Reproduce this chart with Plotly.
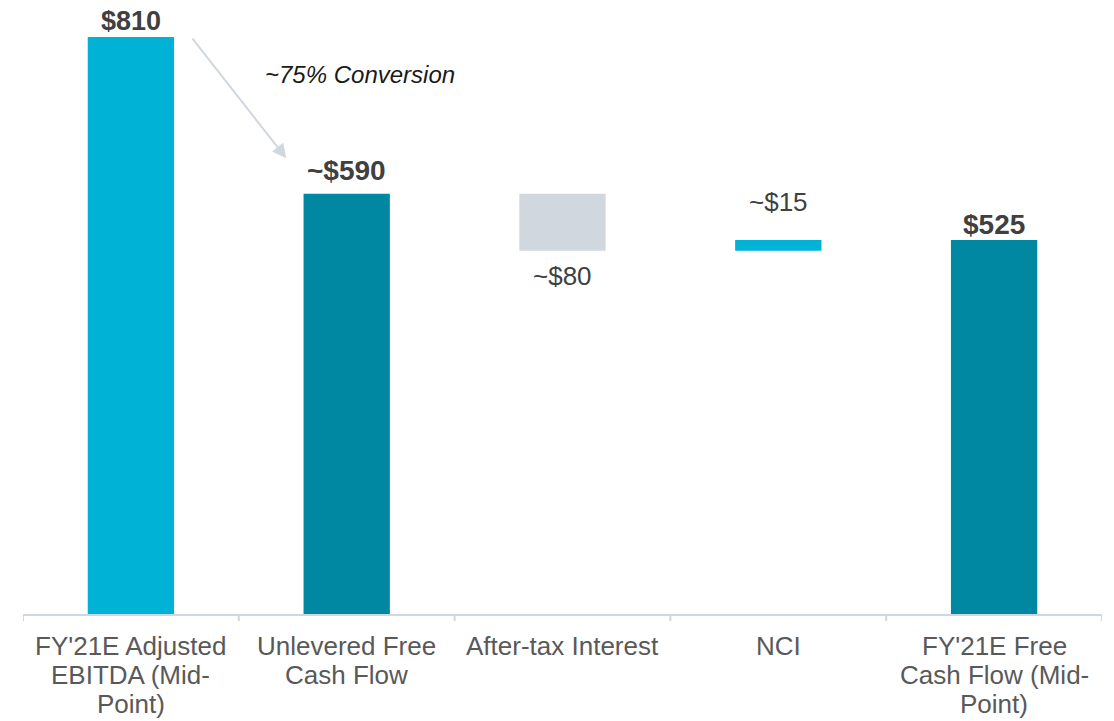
import plotly.graph_objects as go

categories = ["FY'21E Adjusted<br>EBITDA (Mid-<br>Point)", "Unlevered Free<br>Cash Flow",
              "After-tax Interest", "NCI", "FY'21E Free<br>Cash Flow (Mid-<br>Point)"]
values = [810, 590, -80, 15, 525]
measures = ["absolute", "absolute", "relative", "relative", "absolute"]
labels = ["$810", "~$590", "~$80", "~$15", "$525"]
label_bold = [True, True, False, False, True]
colors = ["#00B2D6", "#0088A3", "#D0D7DE", "#00B2D6", "#0088A3"]

# compute bases / heights for a waterfall drawn with plain bars
bases, heights, tops, bottoms = [], [], [], []
running = 0
for v, m in zip(values, measures):
    if m == "absolute":
        base, h = 0, v
        running = v
    else:
        start = running
        running = running + v
        base, h = min(start, running), abs(v)
    bases.append(base)
    heights.append(h)
    tops.append(base + h)
    bottoms.append(base)

fig = go.Figure()
fig.add_trace(go.Bar(
    x=list(range(len(categories))), y=heights, base=bases,
    marker=dict(color=colors, line=dict(width=0)),
    width=0.4, hoverinfo="skip",
))

# pixel offsets, font sizes and box heights of value labels
label_shift = [3, 6, -8, 21, -2]
label_size = [27, 28, 26, 26, 28]
label_box = [22, None, None, None, None]
annotations = []
for i, (lab, b, v) in enumerate(zip(labels, label_bold, values)):
    if v < 0:
        ann = dict(x=i, y=bottoms[i], text=lab, showarrow=False,
                   yanchor="top", yshift=label_shift[i],
                   font=dict(size=label_size[i], color="#404040"))
    else:
        ann = dict(x=i, y=tops[i], text=f"<b>{lab}</b>" if b else lab,
                   showarrow=False, yanchor="bottom", yshift=label_shift[i],
                   font=dict(size=label_size[i], color="#404040"))
    if label_box[i]:
        ann["height"] = label_box[i]
    annotations.append(ann)

# category labels, one line each (tighter line spacing than tick labels)
for i, cat in enumerate(categories):
    for j, line in enumerate(cat.split("<br>")):
        annotations.append(dict(x=i, y=0, xref="x", yref="paper", text=line,
                                showarrow=False, yanchor="middle",
                                yshift=-32 - 29 * j,
                                font=dict(size=26, color="#595959")))

# conversion arrow
annotations.append(dict(x=0.72, y=640, ax=0.28, ay=810, xref="x", yref="y",
                        axref="x", ayref="y", text="", showarrow=True,
                        arrowhead=2, arrowsize=1.4, arrowwidth=2, arrowcolor="#D0D7DE"))
annotations.append(dict(x=0.61, y=758, xref="x", yref="y", text="<i>~75% Conversion</i>",
                        showarrow=False, xanchor="left",
                        font=dict(size=24, color="#1A1A1A")))

# the page has an 8px body margin, so the figure is sized to fit the window
fig.update_layout(
    width=1106, height=713,
    margin=dict(l=15, r=12, t=12, b=107),
    paper_bgcolor="white", plot_bgcolor="white",
    font=dict(family="Liberation Sans, Arial, sans-serif", color="#595959"),
    showlegend=False,
    annotations=annotations,
    bargap=0.6,
)
fig.update_xaxes(
    tickmode="array", tickvals=list(range(len(categories))),
    showticklabels=False,
    range=[-0.5, len(categories) - 0.5],
    showline=True, linecolor="#D0D7DE", linewidth=2,
    ticks="", showgrid=False, zeroline=False,
)
# boundary tick marks
for k in range(len(categories) + 1):
    fig.add_shape(type="line", xref="x", yref="paper", x0=k - 0.5, x1=k - 0.5,
                  y0=0, y1=-0.012, line=dict(color="#D0D7DE", width=2))
fig.update_yaxes(range=[0, 834], visible=False, showgrid=False, zeroline=False)

fig.write_html("out.html")
